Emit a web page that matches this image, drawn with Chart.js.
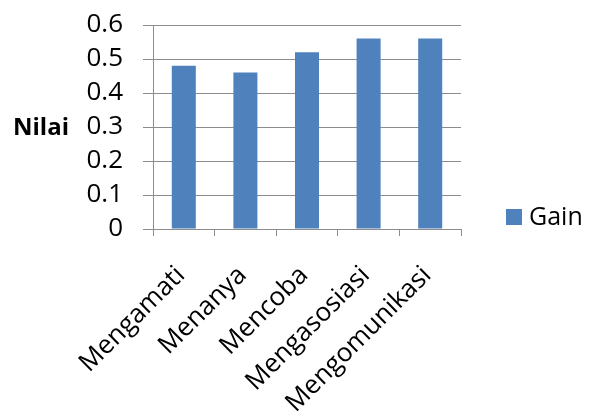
<!DOCTYPE html>
<html>
<head>
<meta charset="utf-8">
<script src="https://cdn.jsdelivr.net/npm/chart.js@4"></script>
<style>
html,body{margin:0;padding:0;background:#fff;}
#wrap{width:592px;height:414px;position:relative;}
</style>
</head>
<body>
<div id="wrap"><canvas id="c"></canvas></div>
<script>
const categories = ["Mengamati", "Menanya", "Mencoba", "Mengasosiasi", "Mengomunikasi"];
const gainValues = [0.48, 0.46, 0.52, 0.56, 0.56];
const seriesName = "Gain";
const axisTitle = "Nilai";

const FONT = "'Open Sans', sans-serif";
const BAR = '#4F81BD';
const GRID = '#8c8c8c';

const extras = {
  id: 'extras',
  afterDraw(chart) {
    const ctx = chart.ctx;
    const a = chart.chartArea;
    ctx.save();
    ctx.fillStyle = '#000';
    ctx.font = "bold 24px " + FONT;
    ctx.textAlign = 'left';
    ctx.textBaseline = 'middle';
    ctx.fillText(axisTitle, 13, (a.top + a.bottom) / 2 + 1);
    // legend
    const ly = 217;
    ctx.fillStyle = BAR;
    ctx.fillRect(506, ly - 8, 16, 16);
    ctx.fillStyle = '#000';
    ctx.font = "25px " + FONT;
    ctx.fillText(seriesName, 529, ly + 1);
    ctx.restore();
  }
};

new Chart(document.getElementById('c'), {
  type: 'bar',
  data: {
    labels: categories,
    datasets: [{
      label: seriesName,
      data: gainValues,
      backgroundColor: BAR,
      borderWidth: 0,
      categoryPercentage: 0.39,
      barPercentage: 1.0
    }]
  },
  options: {
    responsive: true,
    maintainAspectRatio: false,
    animation: false,
    layout: { padding: { top: 25, right: 131, left: 0, bottom: 0 } },
    plugins: { legend: { display: false }, tooltip: { enabled: false } },
    scales: {
      y: {
        min: 0, max: 0.6,
        ticks: { stepSize: 0.1, autoSkip: false, color: '#000', font: { family: FONT, size: 26, lineHeight: 1 }, padding: 20,
                 callback: v => (Math.round(v*10)/10).toString() },
        grid: { color: GRID, lineWidth: 1, tickLength: 10, drawTicks: true },
        border: { color: GRID, width: 1 },
        afterFit(s) { s.width = 153; s.paddingTop = 0; s.paddingBottom = 0; }
      },
      x: {
        offset: true,
        ticks: { autoSkip: false, color: '#000', font: { family: FONT, size: 26 }, minRotation: 45, maxRotation: 45, padding: 24, labelOffset: -3 },
        grid: { drawOnChartArea: false, color: GRID, tickLength: 7, offset: true },
        border: { color: GRID, width: 1 },
        afterFit(s) { s.height = 185; }
      }
    }
  },
  plugins: [extras]
});
</script>
</body>
</html>
